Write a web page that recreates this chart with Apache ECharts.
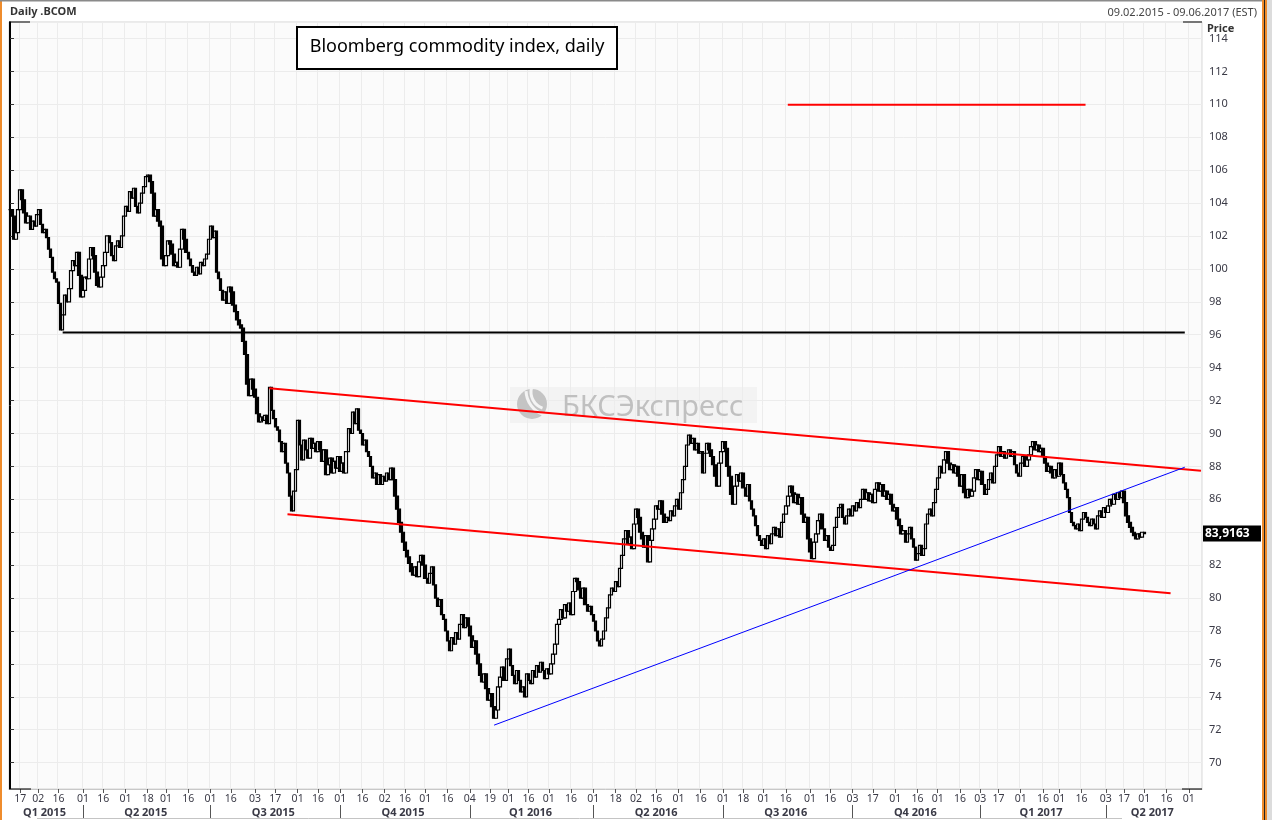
<!DOCTYPE html>
<html>
<head>
<meta charset="UTF-8">
<title>Bloomberg commodity index, daily</title>
<script src="https://cdn.jsdelivr.net/npm/echarts@6.0.0/dist/echarts.min.js"></script>
<style>
    html, body {margin: 0; padding: 0; background: #fff;}
    #main {width: 1272px; height: 820px;}
</style>
</head>
<body>
<div id="main"></div>
<script>
    // trading calendar (US market holidays skipped)
    var firstDay = '2015-02-09', lastDay = '2017-06-09';
    var holidays = ['2015-02-16', '2015-04-03', '2015-05-25', '2015-07-03', '2015-09-07', '2015-11-26', '2015-12-25',
        '2016-01-01', '2016-01-18', '2016-02-15', '2016-03-25', '2016-05-30', '2016-07-04', '2016-09-05', '2016-11-24', '2016-12-26',
        '2017-01-02', '2017-01-16', '2017-02-20', '2017-04-14', '2017-05-29'];

    // daily closes of .BCOM, from 09.02.2015
    var closes = [
        103.6, 103.2, 101.8, 102.2, 103.6, 104.8, 104.2, 103.4, 102.8, 103.2,
        102.4, 102.9, 102.6, 103.3, 103.6, 102.7, 102.2, 102.4, 101.9, 101.2,
        100.7, 99.8, 99.4, 99.2, 97.9, 96.3, 97.2, 98.4, 98.0, 98.8,
        99.9, 100.5, 100.2, 101.0, 99.6, 98.3, 98.7, 99.5, 99.4, 100.6,
        101.3, 100.8, 99.8, 99.0, 98.9, 99.5, 100.2, 101.0, 102.0, 101.6,
        100.8, 100.5, 101.4, 101.7, 101.3, 102.0, 103.2, 103.8, 103.5, 104.7,
        104.3, 104.9, 103.8, 103.4, 104.0, 104.6, 105.0, 105.6, 105.7, 105.3,
        104.6, 103.2, 103.6, 102.9, 102.6, 100.6, 100.2, 100.8, 101.7, 101.5,
        100.9, 100.2, 100.4, 100.1, 101.2, 102.4, 101.8, 101.0, 100.6, 100.2,
        99.8, 99.6, 100.1, 99.7, 100.4, 100.2, 100.6, 100.9, 101.8, 102.6,
        101.9, 102.3, 99.8, 99.4, 98.7, 98.1, 98.6, 97.9, 98.9, 98.6,
        97.8, 97.4, 96.9, 96.6, 96.4, 95.6, 94.8, 93.0, 92.3, 93.3,
        92.7, 92.2, 91.2, 90.7, 91.0, 90.8, 91.1, 90.6, 92.8, 91.4,
        90.9, 90.4, 90.2, 89.5, 88.9, 89.4, 88.2, 87.6, 86.2, 85.3,
        86.5, 87.8, 90.8, 89.3, 88.4, 89.6, 89.0, 88.5, 89.7, 89.1,
        89.4, 88.9, 89.5, 89.0, 88.3, 89.0, 87.5, 88.1, 88.5, 87.6,
        88.3, 87.9, 88.6, 87.7, 88.2, 87.6, 88.9, 90.3, 90.0, 91.3,
        90.6, 91.5, 90.2, 90.0, 89.3, 89.6, 88.9, 88.6, 88.0, 87.3,
        87.6, 86.9, 87.5, 86.9, 87.4, 87.1, 87.6, 87.2, 87.9, 87.2,
        86.2, 85.4, 84.6, 84.0, 83.4, 82.9, 82.5, 82.1, 81.6, 81.4,
        81.9, 81.3, 82.2, 82.6, 82.0, 81.2, 80.9, 81.5, 81.9, 80.8,
        80.0, 79.5, 79.9, 79.0, 78.7, 78.0, 77.4, 76.8, 77.6, 77.2,
        77.9, 77.5, 78.4, 79.0, 78.2, 78.8, 78.3, 77.7, 77.0, 77.4,
        76.6, 76.0, 75.3, 74.9, 75.4, 74.5, 73.8, 74.2, 73.4, 72.7,
        73.2, 74.6, 75.2, 75.8, 75.0, 76.3, 76.9, 75.9, 75.3, 74.8,
        75.6, 75.0, 74.3, 74.6, 74.0, 75.4, 75.0, 74.8, 75.6, 75.2,
        75.9, 75.5, 76.1, 75.6, 75.1, 75.7, 75.4, 76.0, 76.6, 77.2,
        78.4, 78.7, 79.3, 78.8, 79.6, 79.2, 79.7, 79.0, 80.4, 81.2,
        81.0, 80.5, 80.0, 80.6, 79.6, 79.2, 79.5, 79.0, 78.6, 78.0,
        77.4, 77.1, 77.5, 78.0, 78.8, 79.4, 80.2, 80.6, 80.4, 81.0,
        80.7, 81.8, 82.6, 83.6, 84.1, 83.3, 83.7, 83.0, 84.5, 85.4,
        84.9, 84.0, 83.6, 83.1, 83.8, 82.2, 83.5, 84.2, 84.8, 85.6,
        85.4, 85.9, 85.1, 84.6, 84.9, 84.7, 85.3, 85.0, 85.6, 86.0,
        85.4, 86.4, 87.2, 88.0, 89.3, 89.9, 89.4, 89.7, 89.0, 89.4,
        88.8, 88.9, 87.6, 88.8, 89.4, 89.0, 88.6, 88.1, 87.4, 86.8,
        88.2, 88.9, 89.5, 89.1, 88.0, 87.4, 86.3, 85.7, 86.8, 87.5,
        87.1, 87.6, 86.7, 86.2, 86.9, 85.9, 85.4, 85.0, 84.4, 83.8,
        83.5, 83.2, 83.6, 83.0, 83.8, 83.3, 83.9, 84.3, 83.8, 84.2,
        83.7, 84.6, 85.1, 85.6, 86.2, 86.8, 86.4, 85.8, 86.3, 85.7,
        86.1, 85.1, 84.6, 84.9, 83.6, 82.8, 82.4, 83.4, 83.9, 84.7,
        85.1, 84.2, 83.5, 83.8, 83.1, 82.9, 83.2, 84.3, 84.9, 85.5,
        85.7, 84.9, 84.5, 85.0, 85.4, 85.0, 85.6, 85.3, 85.8, 85.5,
        86.0, 86.6, 86.0, 86.4, 85.9, 86.3, 85.8, 86.6, 87.0, 86.5,
        86.9, 86.2, 86.5, 86.0, 86.3, 85.7, 85.3, 85.5, 84.8, 84.4,
        83.9, 84.1, 83.4, 83.9, 84.3, 83.6, 83.1, 82.3, 82.7, 83.2,
        82.6, 83.0, 84.5, 85.1, 85.4, 85.0, 85.8, 86.6, 87.3, 88.0,
        87.6, 88.4, 88.9, 88.2, 87.8, 88.1, 87.6, 88.0, 87.4, 86.8,
        87.5, 86.4, 86.1, 86.6, 86.2, 86.5, 87.3, 87.8, 87.2, 87.7,
        86.9, 86.3, 86.6, 87.2, 87.6, 87.0, 88.0, 88.7, 89.2, 88.6,
        88.9, 88.5, 88.8, 89.0, 88.6, 88.9, 88.1, 87.6, 87.4, 88.2,
        88.6, 88.0, 88.4, 88.7, 89.2, 89.5, 89.0, 89.3, 88.9, 89.1,
        88.6, 88.2, 87.7, 88.0, 87.6, 87.3, 87.8, 87.4, 88.2, 87.5,
        87.0, 86.6, 86.1, 85.2, 84.6, 84.4, 84.2, 84.5, 84.1, 84.8,
        85.2, 84.9, 84.6, 84.4, 84.8, 84.5, 84.2, 85.0, 85.3, 84.9,
        85.5, 85.2, 85.6, 86.0, 85.7, 86.3, 86.0, 86.4, 86.1, 86.5,
        85.8, 85.0, 84.6, 84.3, 84.0, 83.8, 83.6, 83.9, 83.7, 84.0,
        83.9163
    ];
    var lastLabel = '83,9163';

    // drawn lines: [date, price] endpoints
    var channelTop = [['2015-08-12', 92.75], ['2017-06-09', 87.73]];
    var channelBottom = [['2015-08-25', 85.09], ['2017-05-18', 80.3]];
    var supportLine = [['2016-01-21', 72.28], ['2017-05-30', 87.95]];
    var levelLine = [['2015-03-18', 96.13], ['2017-05-30', 96.13]];
    var topMark = [['2016-08-17', 109.97], ['2017-03-20', 109.97]];

    var yMin = 68.4, yMax = 115;
    var font = '"Noto Sans", sans-serif';

    // trading days
    var dates = [];
    for (var t = Date.parse(firstDay); t <= Date.parse(lastDay); t += 86400000) {
        var d = new Date(t), wd = d.getUTCDay(), s = d.toISOString().slice(0, 10);
        if (wd === 0 || wd === 6 || holidays.indexOf(s) >= 0) continue;
        dates.push(s);
    }

    function halfKey(s) {
        return s.slice(0, 7) + (+s.slice(8) >= 16 ? 'b' : 'a');
    }
    function quarterKey(s) {
        return s.slice(0, 4) + 'Q' + (Math.floor((+s.slice(5, 7) - 1) / 3) + 1);
    }

    var dayTick = {}, qStart = {}, qMid = {}, qFirst = {}, qLast = {};
    dates.forEach(function (s, i) {
        if (i > 0 && halfKey(s) !== halfKey(dates[i - 1])) dayTick[i] = true;
        var q = quarterKey(s);
        if (i > 0 && q !== quarterKey(dates[i - 1])) qStart[i] = true;
        if (qFirst[q] === undefined) qFirst[q] = i;
        qLast[q] = i;
    });
    Object.keys(qFirst).forEach(function (q) {
        qMid[Math.floor((qFirst[q] + qLast[q]) / 2)] = true;
    });

    var candles = closes.map(function (c, i) {
        var o = i ? closes[i - 1] : c;
        return [o, c, Math.min(o, c), Math.max(o, c)];
    });

    function seg(pts) {
        return pts.map(function (p) { return [dates.indexOf(p[0]), p[1]]; });
    }
    function lineSeries(pts, color, width) {
        return {
            type: 'line', xAxisIndex: 2, yAxisIndex: 0, data: seg(pts), symbol: 'none', z: 3,
            lineStyle: {color: color, width: width}, silent: true
        };
    }

    var chart = echarts.init(document.getElementById('main'));

    var option = {
        animation: false,
        backgroundColor: '#fff',
        grid: {
            left: 9, right: 70, top: 22, bottom: 31,
            show: true, backgroundColor: '#fbfbfb', borderColor: '#d4d4d4', borderWidth: 1,
            containLabel: false, outerBoundsMode: 'none'
        },
        xAxis: [{
            type: 'category', data: dates, boundaryGap: true, position: 'bottom',
            axisLine: {show: true, lineStyle: {color: '#c8c8c8'}},
            axisTick: {show: true, alignWithLabel: true, length: 4, lineStyle: {color: '#555'},
                interval: function (i) { return !!dayTick[i]; }},
            axisLabel: {show: true, color: '#3a3a46', fontSize: 10.5, fontFamily: font, margin: 5,
                interval: function (i) { return !!dayTick[i]; },
                formatter: function (v) { return v.slice(8); }},
            splitLine: {show: true, lineStyle: {color: '#ececec', width: 1},
                interval: function (i) { return !!dayTick[i]; }}
        }, {
            type: 'category', data: dates, boundaryGap: true, position: 'bottom', offset: 16,
            axisLine: {show: false},
            axisTick: {show: true, alignWithLabel: true, length: 13, lineStyle: {color: '#555'},
                interval: function (i) { return !!qStart[i]; }},
            axisLabel: {show: true, color: '#3a3a46', fontSize: 11, fontWeight: 'bold', fontFamily: font, margin: 2,
                interval: function (i) { return !!qMid[i]; },
                formatter: function (v) { var q = quarterKey(v); return q.slice(4) + ' ' + q.slice(0, 4); }},
            splitLine: {show: false}
        }, {
            type: 'value', min: -0.5, max: dates.length - 0.5, show: false
        }],
        yAxis: [{
            type: 'value', position: 'right', min: yMin, max: yMax, splitNumber: 23, scale: true,
            axisLine: {show: true, lineStyle: {color: '#000'}},
            axisTick: {show: true, length: 4, lineStyle: {color: '#333'}},
            axisLabel: {color: '#3a3a46', fontSize: 11, fontFamily: font, margin: 7,
                showMinLabel: false, showMaxLabel: false},
            splitLine: {show: true, lineStyle: {color: '#ececec', width: 1}}
        }, {
            type: 'value', position: 'left', min: yMin, max: yMax,
            axisLine: {show: true, lineStyle: {color: '#000'}},
            axisTick: {show: false}, axisLabel: {show: false}, splitLine: {show: false}
        }],
        series: [{
            type: 'candlestick', name: '.BCOM', xAxisIndex: 0, yAxisIndex: 0,
            data: candles, barWidth: 3, large: false,
            itemStyle: {color: '#fff', color0: '#000', borderColor: '#000', borderColor0: '#000', borderWidth: 1.2}
        },
            lineSeries(channelTop, '#ff0000', 2),
            lineSeries(channelBottom, '#ff0000', 2),
            lineSeries(supportLine, '#0000ff', 1),
            lineSeries(levelLine, '#000000', 2),
            lineSeries(topMark, '#ff0000', 2)
        ]
    };
    chart.setOption(option);

    var py = chart.convertToPixel({yAxisIndex: 0}, closes[closes.length - 1]);
    var gl = 9, gr = 1202, gt = 22, gb = 789;

    chart.setOption({
        graphic: [
            // window frame
            {type: 'rect', shape: {x: 0, y: 0, width: 2, height: 820}, style: {fill: '#ef8c2c'}, z: 100},
            {type: 'rect', shape: {x: 0, y: 0, width: 1272, height: 1.5}, style: {fill: '#8a8a8a'}, z: 100},
            {type: 'rect', shape: {x: 1262, y: 0, width: 5, height: 820}, style: {fill: '#ef8c2c'}, z: 100},
            {type: 'rect', shape: {x: 1264, y: 0, width: 1, height: 820}, style: {fill: '#222'}, z: 101},
            {type: 'rect', shape: {x: 1267, y: 0, width: 5, height: 820}, style: {fill: '#dcdcdc'}, z: 100},
            // header
            {type: 'text', x: 10, y: 12, style: {text: 'Daily .BCOM', font: 'bold 11px ' + font, fill: '#333', verticalAlign: 'middle'}, z: 50},
            {type: 'text', x: 1257, y: 13, style: {text: '09.02.2015 - 09.06.2017 (EST)', font: '11px ' + font, fill: '#444', align: 'right', verticalAlign: 'middle'}, z: 50},
            {type: 'text', x: 1207, y: 29, style: {text: 'Price', font: 'bold 11px ' + font, fill: '#333', verticalAlign: 'middle'}, z: 50},
            // frame corners
            {type: 'line', shape: {x1: gl, y1: gt, x2: gl + 21, y2: gt}, style: {stroke: '#000', lineWidth: 1}, z: 50},
            {type: 'line', shape: {x1: gl, y1: gb, x2: gl + 22, y2: gb}, style: {stroke: '#000', lineWidth: 1}, z: 50},
            {type: 'line', shape: {x1: gr - 19, y1: gt, x2: gr, y2: gt}, style: {stroke: '#000', lineWidth: 1}, z: 50},
            {type: 'line', shape: {x1: gr - 20, y1: gb, x2: gr, y2: gb}, style: {stroke: '#000', lineWidth: 1}, z: 50},
            {type: 'line', shape: {x1: 37, y1: 818.5, x2: 1122, y2: 818.5}, style: {stroke: '#c4c4c4', lineWidth: 1}, z: 50},
            // watermark
            {type: 'group', z: 1, children: [
                {type: 'rect', shape: {x: 510, y: 387, width: 247, height: 36}, style: {fill: 'rgba(236,236,236,0.55)'}, z: 1},
                {type: 'circle', shape: {cx: 532, cy: 404, r: 15}, style: {fill: '#c4c4c4'}, z: 1},
                {type: 'arc', shape: {cx: 548, cy: 392, r: 17, startAngle: 1.9, endAngle: 3.4}, style: {stroke: '#f4f4f4', lineWidth: 3, fill: null}, z: 1},
                {type: 'arc', shape: {cx: 552, cy: 390, r: 26, startAngle: 1.9, endAngle: 3.1}, style: {stroke: '#f4f4f4', lineWidth: 3, fill: null}, z: 1},
                {type: 'text', x: 562, y: 408, style: {text: 'БКСЭкспресс', font: '29px ' + font, fill: '#c0c0c0', verticalAlign: 'middle'}, z: 1}
            ]},
            // title box
            {type: 'rect', shape: {x: 297, y: 27, width: 320, height: 42}, style: {fill: '#fff', stroke: '#000', lineWidth: 2}, z: 60},
            {type: 'text', x: 457, y: 47, style: {text: 'Bloomberg commodity index, daily', font: '18px ' + font, fill: '#000', align: 'center', verticalAlign: 'middle'}, z: 61},
            // last price tag
            {type: 'rect', shape: {x: 1203, y: py - 8, width: 58, height: 16}, style: {fill: '#000'}, z: 60},
            {type: 'text', x: 1205, y: py, style: {text: lastLabel, font: 'bold 12px ' + font, fill: '#fff', verticalAlign: 'middle'}, z: 61}
        ]
    });
</script>
</body>
</html>
